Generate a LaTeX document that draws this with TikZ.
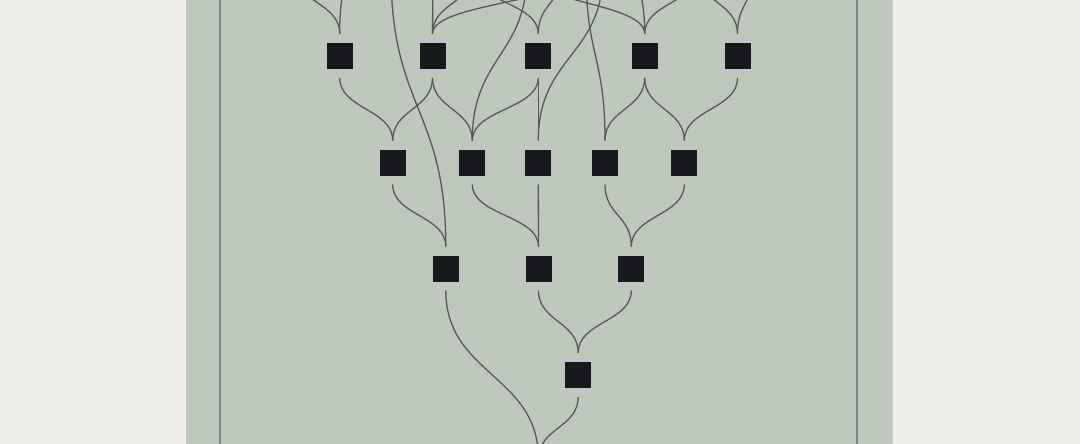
\documentclass[tikz,border=0pt]{standalone}
\usetikzlibrary{calc}
\definecolor{outerbg}{HTML}{EFEEEB}
\definecolor{panel}{HTML}{BFC8BC}
\definecolor{frameline}{HTML}{7B877C}
\definecolor{wire}{HTML}{535A53}
\definecolor{box}{HTML}{17181C}
\tikzset{
  sq/.style={rectangle, fill=box, minimum size=26pt, inner sep=0pt, outer sep=0pt},
  edge/.style={draw=wire, line width=1.3pt},
}
\newcommand\lnk[2]{\draw[edge] let \p1=(#1.south), \p2=(#2.north) in (\x1,\y1-9pt) .. controls (\x1,{0.5*(\y1+\y2)}) and (\x2,{0.5*(\y1+\y2)}) .. (\x2,\y2+9pt);}
\begin{document}
\begin{tikzpicture}[x=1pt,y=-1pt]
\useasboundingbox (0,0) rectangle (1080,444);
\fill[outerbg] (0,0) rectangle (1080,444);
\fill[panel] (186,0) rectangle (893,444);
\draw[frameline, line width=2pt] (219.5,0) -- (219.5,444);
\draw[frameline, line width=2pt] (857.3,0) -- (857.3,444);
\clip (0,0) rectangle (1080,444);
% row 0 (above the visible area)
\foreach \n/\x in {b1/295,b2/343,b3/391,b4/433,b5/474,b6/527,b7/563,b8/575,b9/586,b10/603,b11/640,b12/698,b13/754}
  \node[sq] (\n) at (\x,-50.5) {};
% row 1
\node[sq] (r1a) at (339.7,55.8) {};
\node[sq] (r1b) at (432.5,55.8) {};
\node[sq] (r1c) at (538.3,55.8) {};
\node[sq] (r1d) at (644.7,55.8) {};
\node[sq] (r1e) at (737.5,55.8) {};
% row 2
\node[sq] (r2a) at (392.7,162.5) {};
\node[sq] (r2b) at (472.3,162.5) {};
\node[sq] (r2c) at (538.3,162.5) {};
\node[sq] (r2d) at (605,162.5) {};
\node[sq] (r2e) at (684.3,162.5) {};
% row 3
\node[sq] (r3a) at (445.8,268.5) {};
\node[sq] (r3b) at (538.5,268.5) {};
\node[sq] (r3c) at (631.3,268.5) {};
% row 4
\node[sq] (r4a) at (578.2,374.8) {};
% row 5 (below the visible area)
\node[sq] (r5a) at (538.5,481) {};
% row 0 -> row 1
\lnk{b1}{r1a}\lnk{b2}{r1a}
\lnk{b4}{r1b}\lnk{b5}{r1b}\lnk{b8}{r1b}
\lnk{b5}{r1c}\lnk{b7}{r1c}
\lnk{b6}{r1d}\lnk{b11}{r1d}\lnk{b12}{r1d}
\lnk{b12}{r1e}\lnk{b13}{r1e}
% long links from row 0
\lnk{b3}{r3a}
\lnk{b6}{r2b}
\lnk{b10}{r2c}
\lnk{b9}{r2d}
% row 1 -> row 2
\lnk{r1a}{r2a}\lnk{r1b}{r2a}
\lnk{r1b}{r2b}\lnk{r1c}{r2b}
\lnk{r1c}{r2c}
\lnk{r1d}{r2d}\lnk{r1d}{r2e}\lnk{r1e}{r2e}
% row 2 -> row 3
\lnk{r2a}{r3a}
\lnk{r2b}{r3b}\lnk{r2c}{r3b}
\lnk{r2d}{r3c}\lnk{r2e}{r3c}
% row 3 -> row 4 / 5
\lnk{r3b}{r4a}\lnk{r3c}{r4a}
\lnk{r3a}{r5a}
\lnk{r4a}{r5a}
\end{tikzpicture}
\end{document}
